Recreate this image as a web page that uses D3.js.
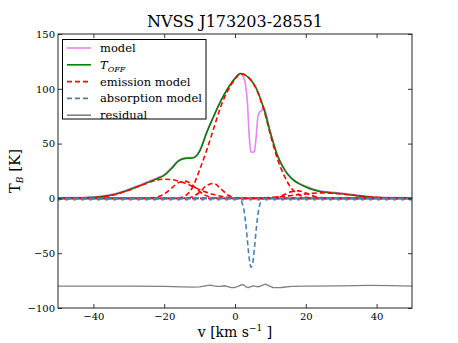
<!DOCTYPE html>
<html>
<head>
<meta charset="utf-8">
<script src="https://cdn.jsdelivr.net/npm/d3@7"></script>
<style>
body { margin: 0; background: #fff; }
svg text { font-family: "DejaVu Serif", serif; fill: #000; }
</style>
</head>
<body>
<svg id="chart" width="458" height="343"></svg>
<script>
// ---- data ----
const velocity = [-50,-46,-42,-38,-34,-30,-27,-24,-22,-20,-18,-16,-14,-12,-10,-8,-6,-4,-2,0,
  1.5,2,2.5,3,3.5,4,4.5,5,5.5,6,6.5,7,7.5,8,10,12,14,16,18,20,22,24,27,30,34,38,42,46,50];

const tOff = [0.2,0.3,0.6,1.4,3.6,7.6,11.4,15.3,18,21,27,34,36.5,36.8,43,60,75,89,100.5,109.5,
  114,113.8,113.2,112.3,111.2,109.8,108,105.8,103.3,100.3,96.7,92.5,88,83.5,60,39,26,18,13.5,10.5,8,6.3,5.2,4.2,2.6,1.2,0.5,0.2,0.1];

const model = [0.5,0.7,1.1,2,4.2,8.3,12.1,16,18.7,21.7,27.7,34.6,37.1,37.3,43.5,60.4,75.3,89.2,100.6,109.6,
  114,112.5,110,103,88,58,42.5,42,43,57,75,79,80,83.5,60.3,39.4,26.5,18.6,14.1,11.1,8.6,6.9,5.8,4.8,3.2,1.8,1.1,0.8,0.6];

const emMain = [0,0,0,0,0,0,0,0,0,0,0.1,0.5,2.5,10,26,44,64,84,98.5,108.8,
  113.5,113.4,113,112.2,111.1,109.7,107.9,105.7,103.1,100,96.3,92,87.3,82.6,58,36,20,9,3.5,1,0.3,0.1,0,0,0,0,0,0,0];

const emBroad = [0,0.1,0.3,1.2,3.4,7.4,11.3,14.9,16.7,17.5,17.2,15.9,13.8,11,8,5.5,3.5,2,1.1,0.6,
  0.4,0.3,0.3,0.2,0.2,0.1,0.1,0.1,0.1,0.1,0,0,0,0,0,0,0,0,0,0,0,0,0,0,0,0,0,0,0];

const emShoulder = [0,0,0,0,0,0,0,0.3,1.2,4,9.1,14.4,15.8,12,6.3,2.3,0.6,0.1,0,0,
  0,0,0,0,0,0,0,0,0,0,0,0,0,0,0,0,0,0,0,0,0,0,0,0,0,0,0,0,0];

const emMid = [0,0,0,0,0,0,0,0,0,0,0,0,0.2,1.5,5.6,11.8,13.7,8.8,3.1,0.6,
  0.1,0,0,0,0,0,0,0,0,0,0,0,0,0,0,0,0,0,0,0,0,0,0,0,0,0,0,0,0];

const emRight = [0,0,0,0,0,0,0,0,0,0,0,0,0,0,0,0,0,0,0,0,
  0,0,0,0,0,0,0,0,0,0,0,0,0,0.05,0.3,1.3,3.5,6.2,6.9,4.9,2.3,0.7,0.05,0,0,0,0,0,0];

const emWing = [0,0,0,0,0,0,0,0,0,0,0,0,0,0,0,0,0,0,0.03,0.05,
  0.08,0.09,0.1,0.12,0.14,0.16,0.18,0.2,0.23,0.3,0.35,0.4,0.45,0.5,0.9,1.3,1.9,2.7,3.4,4.1,4.7,5,4.85,4.1,2.7,1.3,0.5,0.16,0.04];

const absDip = [0,0,0,0,0,0,0,0,0,0,0,0,0,0,0,0,0,0,0,0,
  -1.2,-3.9,-10.2,-21.8,-38.2,-54.3,-62.7,-59,-45.1,-28,-14.2,-5.8,-1.9,-0.5,0,0,0,0,0,0,0,0,0,0,0,0,0,0,0];

const absWeak = [-0.7,-0.7,-0.7,-0.7,-0.7,-0.7,-0.7,-0.7,-0.7,-0.7,-0.7,-0.7,-0.7,-0.7,-0.7,-0.7,-0.7,-0.7,-0.7,-0.7,
  -0.7,-0.7,-0.7,-0.7,-0.7,-0.7,-0.7,-0.7,-0.7,-0.7,-0.7,-0.7,-0.7,-0.7,-0.7,-0.7,-0.7,-0.7,-0.7,-0.7,-0.7,-0.7,-0.7,-0.7,-0.7,-0.7,-0.7,-0.7,-0.7];

const residualVel = [-50,-40,-30,-20,-15,-12,-10,-8,-7,-6,-5,-4,-3,-2,-1,0,1,2,2.5,3,3.7,4.5,5.1,6,6.5,7.5,8.6,9.5,10.8,13,16,20,30,38,44,50];
const residual = [-80,-80.1,-80.1,-80.2,-80.8,-81,-80.7,-79.5,-79.2,-79.8,-80.3,-80.2,-79.7,-80.5,-81.5,-81.3,-80,-78.6,-79,-80.5,-81.5,-80.5,-79.8,-80.2,-80.8,-79.6,-78.2,-79.5,-81.4,-81.3,-80.2,-80.1,-79.8,-79.4,-79.5,-80];

const xTicks = [-40,-20,0,20,40];
const yTicks = [-100,-50,0,50,100,150];

// ---- layout ----
const svg = d3.select('#chart');
const pLeft = 58, pRight = 412, pTop = 34, pBottom = 308;

let x = d3.scaleLinear().domain([-50, 50]).range([pLeft, pRight]);
let y = d3.scaleLinear().domain([-100, 150]).range([pBottom, pTop]);

svg.append('defs').append('clipPath').attr('id', 'clip')
  .append('rect').attr('x', pLeft).attr('y', pTop).attr('width', pRight - pLeft).attr('height', pBottom - pTop);

let plot = svg.append('g').attr('clip-path', 'url(#clip)');

let drawLine = (xs, ys, color, width, dash, curve) => {
  let pts = xs.map((v, i) => [v, ys[i]]);
  let line = d3.line().x(d => x(d[0])).y(d => y(d[1])).curve(curve || d3.curveMonotoneX);
  let p = plot.append('path').datum(pts)
    .attr('d', line)
    .attr('fill', 'none')
    .attr('stroke', color)
    .attr('stroke-width', width)
    .attr('stroke-linejoin', 'round');
  if (dash) p.attr('stroke-dasharray', dash);
  return p;
};

const violet = '#ee82ee', green = '#007f00', red = '#ff0000', blue = '#4682b4', grey = '#808080';

drawLine(velocity, model, violet, 1.6);
drawLine(velocity, tOff, green, 1.6);
[emMain, emBroad, emShoulder, emMid, emRight, emWing].forEach((s, i) => {
  drawLine(velocity, s, red, 1.6, '5,3').attr('stroke-dashoffset', i * 2);
});
// several weak absorption components pile up on the baseline
drawLine(velocity, absWeak, '#6b7c99', 2.8, '3,5').attr('stroke-dashoffset', 1);
drawLine(velocity, absDip, blue, 1.6, '5,3');
drawLine(residualVel, residual, grey, 1.3, null, d3.curveLinear);

// ---- axes (ticks inside, classic style) ----
let axB = svg.append('g').attr('transform', 'translate(0,' + pBottom + ')')
  .call(d3.axisBottom(x).tickValues(xTicks).tickSize(-4).tickPadding(5));
let axT = svg.append('g').attr('transform', 'translate(0,' + pTop + ')')
  .call(d3.axisTop(x).tickValues(xTicks).tickSize(-4).tickFormat(''));
let axL = svg.append('g').attr('transform', 'translate(' + pLeft + ',0)')
  .call(d3.axisLeft(y).tickValues(yTicks).tickSize(-4).tickPadding(3));
let axR = svg.append('g').attr('transform', 'translate(' + pRight + ',0)')
  .call(d3.axisRight(y).tickValues(yTicks).tickSize(-4).tickFormat(''));

[axB, axT, axL, axR].forEach(a => {
  a.select('.domain').remove();
  a.selectAll('line').attr('stroke', '#000').attr('stroke-width', 0.8);
  a.selectAll('text').style('font-family', '"DejaVu Serif", serif').style('font-size', '10px');
});

svg.append('rect')
  .attr('x', pLeft).attr('y', pTop).attr('width', pRight - pLeft).attr('height', pBottom - pTop)
  .attr('fill', 'none').attr('stroke', '#222').attr('stroke-width', 1);

// ---- titles ----
svg.append('text').attr('x', (pLeft + pRight) / 2).attr('y', 27)
  .attr('text-anchor', 'middle').style('font-size', '16px')
  .text('NVSS J173203-28551');

let xl = svg.append('text').attr('x', (pLeft + pRight) / 2).attr('y', 337)
  .attr('text-anchor', 'middle').style('font-size', '14px');
xl.append('tspan').text('v [km s');
xl.append('tspan').attr('dy', -6).style('font-size', '9px').text('\u22121');
xl.append('tspan').attr('dy', 6).text(' ]');

let yl = svg.append('text')
  .attr('transform', 'translate(20,' + ((pTop + pBottom) / 2) + ') rotate(-90)')
  .attr('text-anchor', 'middle').style('font-size', '15px');
yl.append('tspan').text('T');
yl.append('tspan').attr('dy', 3).style('font-size', '9px').style('font-style', 'italic').text('B');
yl.append('tspan').attr('dy', -3).text(' [K]');

// ---- legend ----
const legendItems = [
  { label: 'model', color: violet, dash: null },
  { label: 'T_OFF', color: green, dash: null },
  { label: 'emission model', color: red, dash: '5,3' },
  { label: 'absorption model', color: blue, dash: '5,3' },
  { label: 'residual', color: grey, dash: null }
];

let legend = svg.append('g');
legend.append('rect').attr('x', 62.5).attr('y', 39.5).attr('width', 143.5).attr('height', 79.5)
  .attr('fill', '#fff').attr('stroke', '#000').attr('stroke-width', 1);

legendItems.forEach((d, i) => {
  let ly = 48 + i * 16.8;
  let l = legend.append('line').attr('x1', 67).attr('x2', 91).attr('y1', ly).attr('y2', ly)
    .attr('stroke', d.color).attr('stroke-width', 1.6);
  if (d.dash) l.attr('stroke-dasharray', d.dash);
  let t = legend.append('text').attr('x', 100).attr('y', ly + 4).style('font-size', '11.5px');
  if (d.label === 'T_OFF') {
    t.append('tspan').style('font-style', 'italic').text('T');
    t.append('tspan').attr('dy', 3).style('font-size', '8px').style('font-style', 'italic').text('OFF');
  } else {
    t.text(d.label);
  }
});
</script>
</body>
</html>
